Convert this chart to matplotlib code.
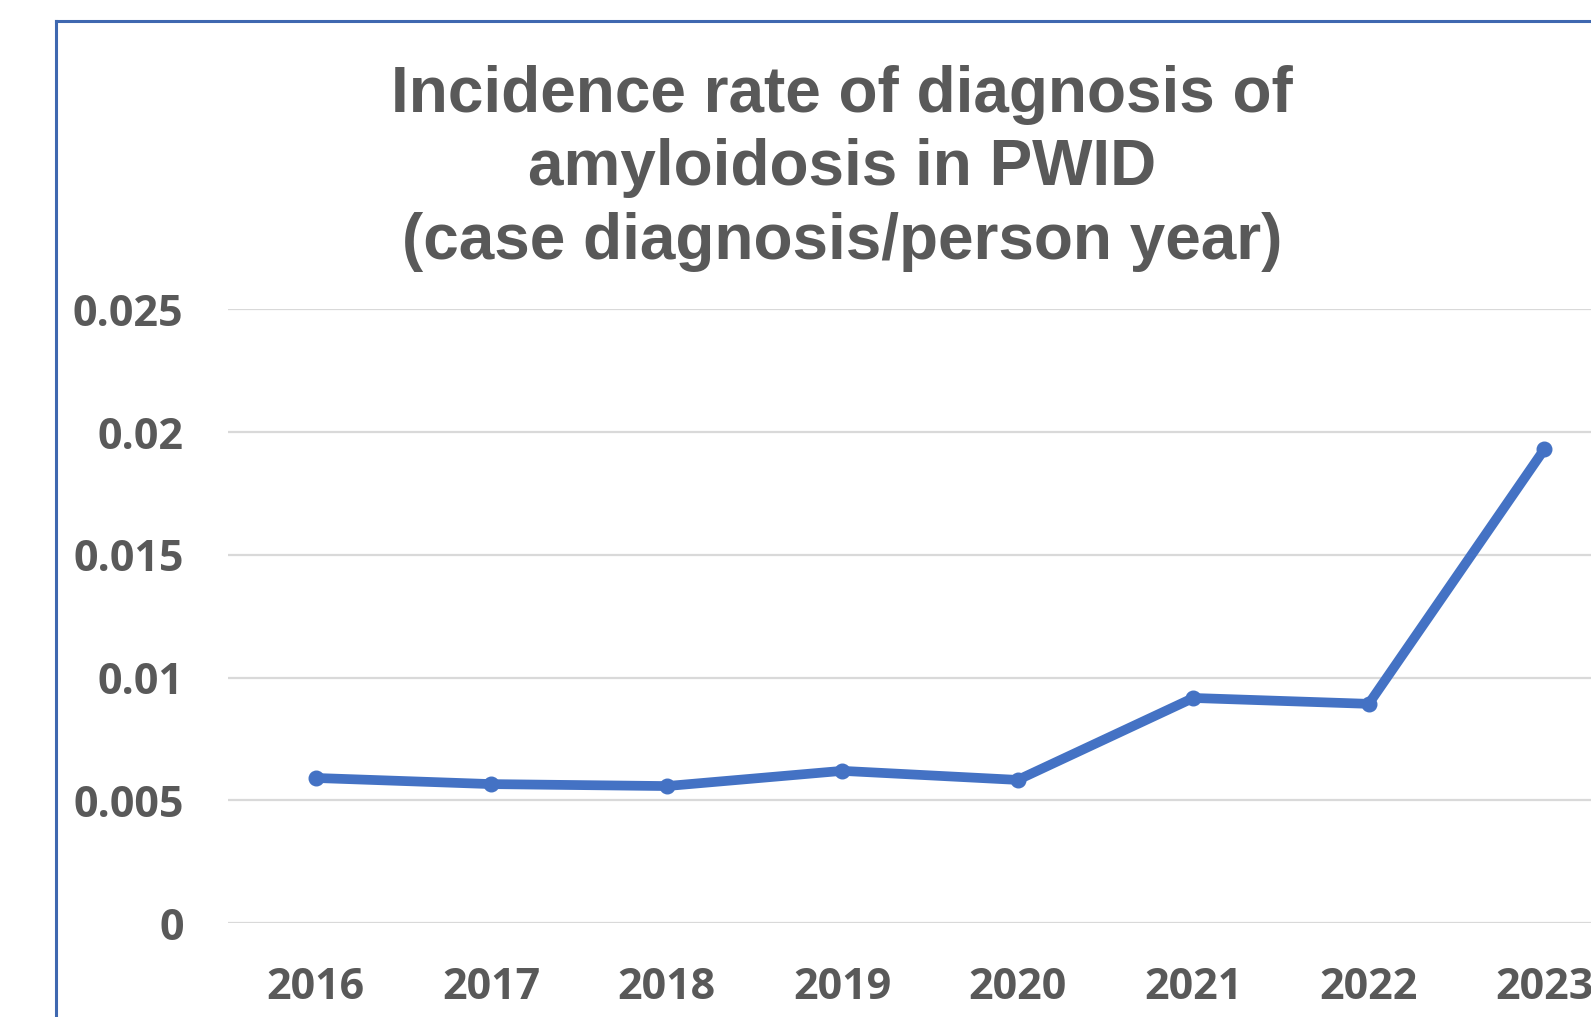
import matplotlib.pyplot as plt
from matplotlib.lines import Line2D

# data
years = ['2016', '2017', '2018', '2019', '2020', '2021', '2022', '2023']
rates = [0.00591, 0.00566, 0.00558, 0.00620, 0.00583, 0.00917, 0.00893, 0.01930]
yticks = [0, 0.005, 0.01, 0.015, 0.02, 0.025]
yticklabels = ['0', '0.005', '0.01', '0.015', '0.02', '0.025']
titleLines = ['Incidence rate of diagnosis of',
              'amyloidosis in PWID',
              '(case diagnosis/person year)']

W, H = 1591, 1017
grey = '#595959'

fig = plt.figure(figsize=(W / 100, H / 100), dpi=100)

# axes area, extends past the right edge like in the reference crop
left, right = 228, 228 + 8 * 175.5
top, bottom = 309.5, 923
ax = fig.add_axes([left / W, 1 - bottom / H, (right - left) / W, (bottom - top) / H])

x = list(range(len(years)))
ax.plot(x, rates, color='#4472C4', linewidth=7, marker='o', markersize=10.5,
        solid_capstyle='round', solid_joinstyle='round', zorder=3)

ax.set_xlim(-0.5, len(years) - 0.5)
ax.set_ylim(0, 0.025)
ax.set_xticks(x)
ax.set_xticklabels(years)
ax.set_yticks(yticks)
ax.set_yticklabels(yticklabels)
ax.grid(axis='y', color='#D9D9D9', linewidth=1.6)
ax.set_axisbelow(True)
for s in ax.spines.values():
    s.set_visible(False)
ax.tick_params(axis='both', length=0, colors=grey)
ax.tick_params(axis='y', pad=32)
ax.tick_params(axis='x', pad=31)
for lab in ax.get_xticklabels() + ax.get_yticklabels():
    lab.set_fontfamily('Open Sans')
    lab.set_fontweight('bold')
    lab.set_fontsize(31)

# title, three centered lines
baselines = [112, 185, 259]
for line, yb in zip(titleLines, baselines):
    fig.text(842 / W, 1 - yb / H, line, ha='center', va='baseline',
             fontsize=46, fontweight='bold', color=grey, family='Liberation Sans')

# chart border (cut off at right and bottom)
fig.add_artist(Line2D([56 / W, 56 / W], [0, 1 - 21 / H], color='#3F68B0', linewidth=2.2))
fig.add_artist(Line2D([56 / W, 1], [1 - 21 / H, 1 - 21 / H], color='#3F68B0', linewidth=2.2))

fig.savefig('out.png', dpi=100)
